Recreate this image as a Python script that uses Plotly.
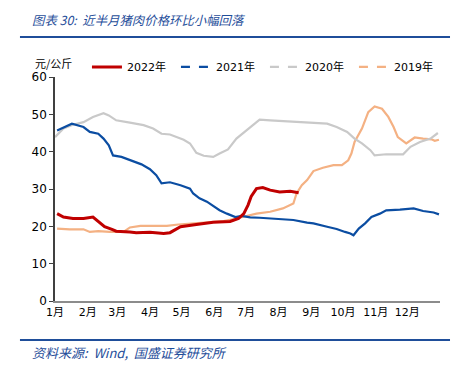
import plotly.graph_objects as go

# ---- data (day-of-year, price in 元/公斤) ----
month_ticks = [0, 31, 59, 90, 120, 151, 181, 212, 243, 273, 304, 334]
month_labels = ["1月", "2月", "3月", "4月", "5月", "6月", "7月", "8月", "9月", "10月", "11月", "12月"]

days_2022 = [2, 8, 17, 27, 36, 41, 47, 54, 58, 71, 77, 90, 103, 109, 114, 119, 134, 150, 166,
             174, 179, 183, 186, 191, 197, 204, 213, 223, 231]
price_2022 = [23.4, 22.5, 22.1, 22.1, 22.5, 21.2, 19.9, 19.2, 18.7, 18.5, 18.3, 18.4, 18.1, 18.3,
              19.2, 19.9, 20.5, 21.1, 21.3, 22.1, 23.4, 25.7, 28.0, 30.1, 30.4, 29.7, 29.2, 29.4, 29.0]

days_2021 = [2, 16, 27, 33, 41, 46, 51, 55, 63, 74, 82, 90, 96, 101, 109, 119, 128, 131, 137, 144,
             149, 156, 163, 171, 177, 185, 194, 204, 216, 226, 239, 245, 258, 267, 275, 280, 283,
             288, 294, 300, 308, 314, 327, 340, 349, 359, 364]
price_2021 = [45.7, 47.5, 46.6, 45.3, 44.8, 43.5, 41.7, 39.0, 38.6, 37.5, 36.6, 35.3, 33.7, 31.5,
              31.8, 31.0, 30.1, 28.8, 27.5, 26.6, 25.7, 24.3, 23.4, 22.5, 22.8, 22.4, 22.3, 22.1,
              21.8, 21.7, 21.0, 20.8, 19.9, 19.3, 18.5, 18.1, 17.6, 19.4, 20.8, 22.5, 23.4, 24.3,
              24.5, 24.8, 24.1, 23.7, 23.2]

days_2020 = [0, 8, 17, 27, 36, 46, 51, 58, 71, 84, 93, 101, 109, 122, 128, 134, 141, 150, 156,
             164, 172, 180, 188, 194, 204, 216, 229, 245, 258, 267, 277, 284, 291, 299, 303, 314,
             330, 337, 346, 356, 363]
price_2020 = [43.9, 46.2, 47.2, 47.9, 49.3, 50.3, 49.7, 48.4, 47.8, 47.1, 46.2, 44.8, 44.6, 43.2,
              42.2, 39.7, 38.9, 38.6, 39.5, 40.6, 43.5, 45.3, 47.1, 48.6, 48.4, 48.2, 47.9, 47.7,
              47.5, 46.6, 45.3, 43.5, 42.2, 40.4, 39.0, 39.3, 39.3, 41.3, 42.6, 43.5, 45.0]

days_2019 = [2, 14, 27, 33, 41, 52, 65, 71, 81, 93, 106, 117, 134, 147, 160, 172, 182, 191, 204,
             216, 226, 229, 234, 239, 245, 254, 264, 272, 278, 281, 284, 291, 297, 303, 310, 316,
             321, 325, 333, 341, 349, 357, 360, 364]
price_2019 = [19.4, 19.2, 19.2, 18.5, 18.7, 18.5, 18.5, 19.7, 20.1, 20.1, 20.1, 20.5, 20.8, 21.0,
              21.4, 22.1, 22.8, 23.4, 23.9, 24.8, 26.1, 28.8, 31.0, 32.4, 34.8, 35.7, 36.4, 36.4,
              37.7, 39.5, 42.6, 46.2, 50.6, 52.1, 51.5, 49.3, 46.6, 43.9, 42.2, 43.8, 43.5, 43.3,
              42.9, 43.2]

series = [
    ("2022年", days_2022, price_2022, "#C00000", 3.0, "solid"),
    ("2021年", days_2021, price_2021, "#0B4DA2", 2.2, "dash"),
    ("2020年", days_2020, price_2020, "#C9C9C9", 2.2, "dash"),
    ("2019年", days_2019, price_2019, "#F4B183", 2.2, "dash"),
]

FONT = "DejaVu Sans, Verdana, Noto Sans CJK SC, sans-serif"
CJK = "Noto Sans CJK SC, sans-serif"

fig = go.Figure()
# draw older years first so 2022 sits on top
for name, xs, ys, color, w, dash in reversed(series):
    fig.add_trace(go.Scatter(x=xs, y=ys, mode="lines", name=name, showlegend=False,
                             line=dict(color=color, width=w), hoverinfo="skip"))
# legend entries (dashed style as in the original legend)
for name, xs, ys, color, w, dash in series:
    fig.add_trace(go.Scatter(x=[None], y=[None], mode="lines", name=name,
                             line=dict(color=color, width=3 if name == "2022年" else 2.2, dash=dash)))

fig.update_layout(
    width=466, height=366,
    margin=dict(l=55, r=26, t=77, b=65, autoexpand=False),
    paper_bgcolor="white", plot_bgcolor="white",
    font=dict(family=FONT, size=11, color="#000000"),
    showlegend=True,
    legend=dict(orientation="h", x=0.083, xanchor="left", y=1.045, yanchor="middle",
                font=dict(family=FONT, size=11, color="#000000"),
                entrywidth=44, entrywidthmode="pixels", itemwidth=30,
                bgcolor="rgba(0,0,0,0)", traceorder="normal"),
    xaxis=dict(range=[0, 365], tickmode="array", tickvals=month_ticks, ticktext=month_labels,
               showgrid=False, zeroline=False, showline=True, linecolor="#8C8C8C", linewidth=1.5,
               ticks="", tickfont=dict(family=FONT, size=11, color="#000000"), fixedrange=True),
    yaxis=dict(range=[0, 60], dtick=10, showgrid=False, zeroline=False, showline=True,
               linecolor="#404040", linewidth=1.5, ticks="outside", ticklen=4, tickcolor="#404040",
               tickfont=dict(family=FONT, size=12, color="#000000"), fixedrange=True),
    shapes=[
        dict(type="line", xref="paper", yref="paper", x0=-0.091, x1=1.026, y0=1.179, y1=1.179,
             line=dict(color="#1F4E9A", width=2)),
        dict(type="line", xref="paper", yref="paper", x0=-0.091, x1=1.026, y0=-0.174, y1=-0.174,
             line=dict(color="#1F4E9A", width=2)),
    ],
    annotations=[
        dict(text="<i>图表 30:  近半月猪肉价格环比小幅回落</i>", xref="paper", yref="paper",
             x=-0.065, y=1.254, xanchor="left", yanchor="middle", showarrow=False,
             font=dict(family=CJK, size=12.4, color="#1F4E9A")),
        dict(text="元/公斤", xref="paper", yref="paper", x=-0.057, y=1.0625,
             xanchor="left", yanchor="middle", showarrow=False,
             font=dict(family=CJK, size=11, color="#000000")),
        dict(text="<i>资料来源:  Wind,  国盛证券研究所</i>", xref="paper", yref="paper",
             x=-0.065, y=-0.228, xanchor="left", yanchor="middle", showarrow=False,
             font=dict(family=CJK, size=13, color="#1F4E9A")),
    ],
)

fig.write_html("out.html", config={"displayModeBar": False},
               post_script="document.body.style.margin='0';")
